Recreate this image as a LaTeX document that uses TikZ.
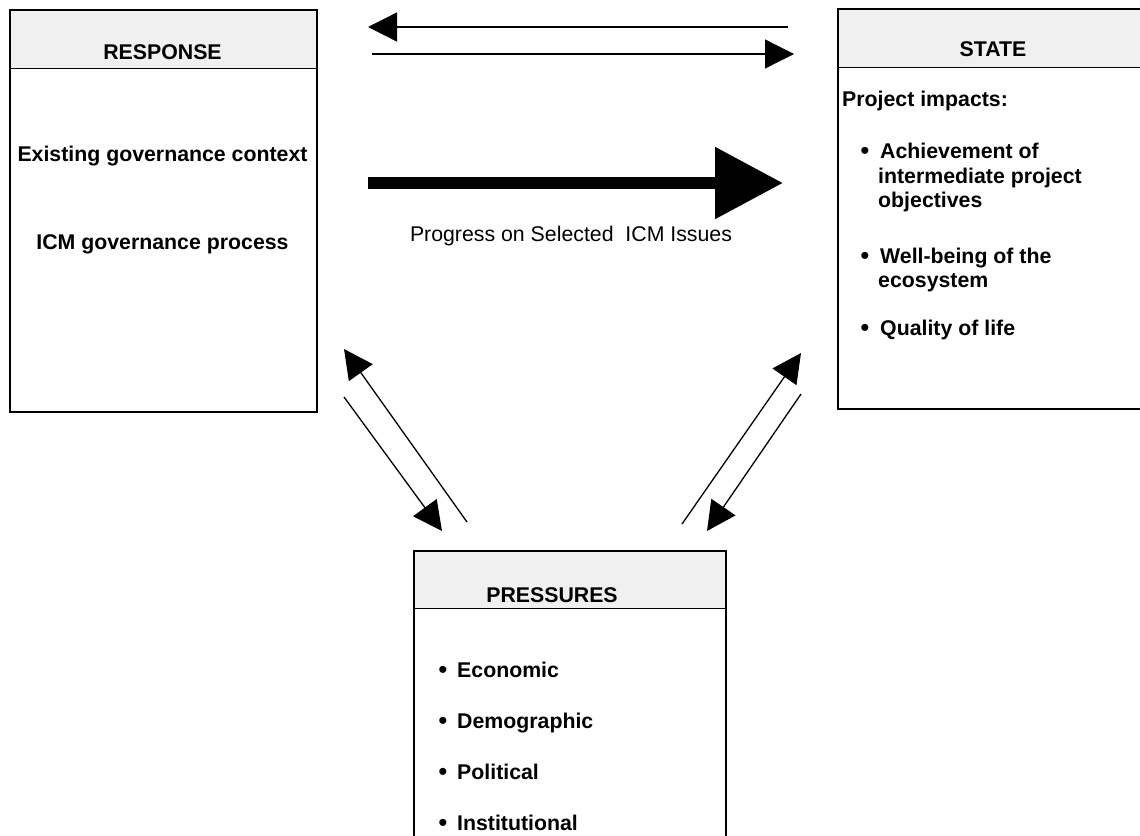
\documentclass[tikz,border=0pt]{standalone}
\usepackage{fontspec}
\setmainfont{Liberation Sans}
\usetikzlibrary{arrows.meta}
\definecolor{hdrgray}{RGB}{240,240,240}
\begin{document}
\begin{tikzpicture}[x=1pt,y=-1pt,
  font=\fontsize{21.3}{24}\selectfont\bfseries,
  box/.style={draw, line width=1.5pt, anchor=north west, inner sep=0pt,
    path picture={
      \fill[hdrgray] (path picture bounding box.north west) rectangle ([yshift=-#1]path picture bounding box.north east);
      \draw[line width=1.2pt] ([yshift=-#1]path picture bounding box.north west) -- ([yshift=-#1]path picture bounding box.north east);
    }},
  hd/.style={anchor=base, inner sep=0pt},
  txc/.style={anchor=base, inner sep=0pt},
  txl/.style={anchor=base west, inner sep=0pt},
  bul/.style={anchor=base, inner sep=0pt, font=\fontsize{26}{26}\selectfont},
  thin/.style={line width=1.3pt, -{Triangle[length=29pt,width=29pt]}},
  thick/.style={line width=12pt, -{Triangle[length=68pt,width=69pt]}},
]
\useasboundingbox (0,0) rectangle (1140,835);

% RESPONSE box
\node[box=59pt, minimum width=307pt, minimum height=402pt] (resp) at (9,9) {};
\node[hd] (respH) at (162.5,59) {RESPONSE};
\node[txc] (resp1) at (162.5,161) {Existing governance context};
\node[txc] (resp2) at (162.5,249) {ICM governance process};

% STATE box
\node[box=59pt, minimum width=313pt, minimum height=400pt] (state) at (837,8) {};
\node[hd] (stateH) at (993,56) {STATE};
\node[txl] (st0) at (842,106) {Project impacts:};
\node[bul] (sb1) at (865,159) {\textbullet};
\node[txl] (st1a) at (880,158) {Achievement of};
\node[txl] (st1b) at (878,183) {intermediate project};
\node[txl] (st1c) at (878,207) {objectives};
\node[bul] (sb2) at (865,264) {\textbullet};
\node[txl] (st2a) at (880,263) {Well-being of the};
\node[txl] (st2b) at (878,287) {ecosystem};
\node[bul] (sb3) at (865,336) {\textbullet};
\node[txl] (st3) at (880,335) {Quality of life};

% PRESSURES box
\node[box=58pt, minimum width=312pt, minimum height=320pt] (press) at (413,550) {};
\node[hd] (pressH) at (552,602) {PRESSURES};
\node[bul] (pb1) at (443,678) {\textbullet};
\node[txl] (p1) at (457,677) {Economic};
\node[bul] (pb2) at (443,729) {\textbullet};
\node[txl] (p2) at (457,728) {Demographic};
\node[bul] (pb3) at (443,780) {\textbullet};
\node[txl] (p3) at (457,779) {Political};
\node[bul] (pb4) at (443,831) {\textbullet};
\node[txl] (p4) at (457,830) {Institutional};

% arrow end points
\coordinate (a1s) at (788,27);  \coordinate (a1e) at (368,27);
\coordinate (a2s) at (372,54);  \coordinate (a2e) at (794,54);
\coordinate (a3s) at (368,183); \coordinate (a3e) at (783,183);
\coordinate (a4s) at (467,522); \coordinate (a4e) at (344,349);
\coordinate (a5s) at (344,397); \coordinate (a5e) at (442,531);
\coordinate (a6s) at (682,524); \coordinate (a6e) at (801,353);
\coordinate (a7s) at (801,394); \coordinate (a7e) at (707,531);

\draw[thin] (a1s) -- (a1e);
\draw[thin] (a2s) -- (a2e);
\draw[thick] (a3s) -- (a3e);
\node[anchor=base, inner sep=0pt, font=\fontsize{21.3}{24}\selectfont\mdseries] (lbl) at (571,241) {Progress on Selected\ \ ICM Issues};
\draw[thin] (a4s) -- (a4e);
\draw[thin] (a5s) -- (a5e);
\draw[thin] (a6s) -- (a6e);
\draw[thin] (a7s) -- (a7e);
\end{tikzpicture}
\end{document}
